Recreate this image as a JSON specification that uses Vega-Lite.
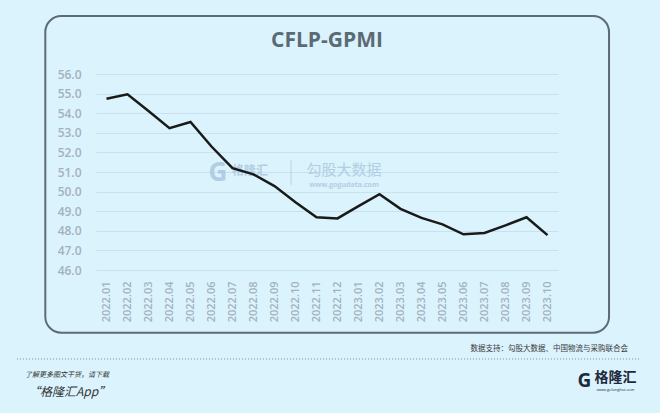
{
  "$schema": "https://vega.github.io/schema/vega-lite/v6.json",
  "width": 462,
  "height": 196,
  "autosize": "none",
  "padding": {"left": 96, "top": 74, "right": 102, "bottom": 143},
  "background": "#dbf3fd",
  "config": {
    "view": {"stroke": null},
    "font": "Open Sans",
    "axisX": {"tickCount": 22, "labelOverlap": false, "labelAngle": -90, "labelPadding": 11, "labelFontSize": 11, "labelColor": "#a3b1bd", "labelFont": "Open Sans", "labelFontWeight": 600, "domain": false, "ticks": false, "grid": false, "labelBound": false},
    "axisY": {"tickCount": 11, "labelOverlap": false, "labelPadding": 15, "labelFontSize": 12, "labelColor": "#a3b1bd", "labelFont": "Open Sans", "labelFontWeight": 600, "domain": false, "ticks": false, "grid": true, "gridColor": "#c8e1ec", "gridWidth": 1}
  },
  "layer": [
    {
      "data": {"values": [{}]},
      "mark": {"type": "rect", "fill": null, "stroke": "#5d6b75", "strokeWidth": 2, "cornerRadius": 16, "clip": false},
      "encoding": {
        "x": {"datum": -2.914, "type": "quantitative", "scale": {"domain": [-0.5, 21.5], "nice": false, "zero": false}, "axis": {
          "values": [0,1,2,3,4,5,6,7,8,9,10,11,12,13,14,15,16,17,18,19,20,21],
          "labelExpr": "['2022.01','2022.02','2022.03','2022.04','2022.05','2022.06','2022.07','2022.08','2022.09','2022.10','2022.11','2022.12','2023.01','2023.02','2023.03','2023.04','2023.05','2023.06','2023.07','2023.08','2023.09','2023.10'][datum.value]",
          "title": null, "labelOverlap": false, "tickCount": 22
        }},
        "x2": {"datum": 23.93},
        "y": {"datum": 58.96, "type": "quantitative", "scale": {"domain": [46, 56], "nice": false, "zero": false}, "axis": {
          "values": [46,47,48,49,50,51,52,53,54,55,56], "format": ".1f", "title": null, "labelOverlap": false, "tickCount": 11
        }},
        "y2": {"datum": 42.8}
      }
    },
    {
      "data": {"values": [{}]},
      "mark": {"type": "text", "text": "CFLP-GPMI", "font": "Open Sans", "fontWeight": "bold", "fontSize": 21, "color": "#5b6b75", "align": "center", "baseline": "middle"},
      "encoding": {"x": {"datum": 10.5, "type": "quantitative"}, "y": {"datum": 57.68, "type": "quantitative"}}
    },
    {
      "data": {"values": [{}]},
      "mark": {"type": "text", "text": "G", "font": "Open Sans", "fontWeight": "bold", "fontSize": 26, "color": "#a9c6df", "opacity": 0.8, "align": "center", "baseline": "middle"},
      "encoding": {"x": {"datum": 5.31, "type": "quantitative"}, "y": {"datum": 50.95, "type": "quantitative"}}
    },
    {
      "data": {"values": [{}]},
      "mark": {"type": "text", "text": "格隆汇", "font": "Noto Sans CJK SC", "fontWeight": "bold", "fontSize": 12, "color": "#a9c6df", "opacity": 0.8, "align": "center", "baseline": "middle"},
      "encoding": {"x": {"datum": 6.83, "type": "quantitative"}, "y": {"datum": 51.05, "type": "quantitative"}}
    },
    {
      "data": {"values": [{}]},
      "mark": {"type": "rule", "color": "#b9d2e3", "strokeWidth": 1},
      "encoding": {"x": {"datum": 8.79, "type": "quantitative"}, "y": {"datum": 51.61, "type": "quantitative"}, "y2": {"datum": 50.34}}
    },
    {
      "data": {"values": [{}]},
      "mark": {"type": "text", "text": "勾股大数据", "font": "Noto Sans CJK SC", "fontSize": 15, "color": "#a9c6df", "opacity": 0.8, "align": "center", "baseline": "middle"},
      "encoding": {"x": {"datum": 11.31, "type": "quantitative"}, "y": {"datum": 51.1, "type": "quantitative"}}
    },
    {
      "data": {"values": [{}]},
      "mark": {"type": "text", "text": "www.gogudata.com", "font": "Open Sans", "fontWeight": "bold", "fontSize": 7, "color": "#a9c6df", "opacity": 0.8, "align": "center", "baseline": "middle"},
      "encoding": {"x": {"datum": 11.31, "type": "quantitative"}, "y": {"datum": 50.36, "type": "quantitative"}}
    },
    {
      "data": {"values": [
        {"month": "2022.01", "i": 0, "value": 54.74},
        {"month": "2022.02", "i": 1, "value": 54.96},
        {"month": "2022.03", "i": 2, "value": 54.11},
        {"month": "2022.04", "i": 3, "value": 53.24},
        {"month": "2022.05", "i": 4, "value": 53.55},
        {"month": "2022.06", "i": 5, "value": 52.3},
        {"month": "2022.07", "i": 6, "value": 51.2},
        {"month": "2022.08", "i": 7, "value": 50.88},
        {"month": "2022.09", "i": 8, "value": 50.28},
        {"month": "2022.10", "i": 9, "value": 49.46},
        {"month": "2022.11", "i": 10, "value": 48.69},
        {"month": "2022.12", "i": 11, "value": 48.63},
        {"month": "2023.01", "i": 12, "value": 49.26},
        {"month": "2023.02", "i": 13, "value": 49.87},
        {"month": "2023.03", "i": 14, "value": 49.12},
        {"month": "2023.04", "i": 15, "value": 48.66},
        {"month": "2023.05", "i": 16, "value": 48.33},
        {"month": "2023.06", "i": 17, "value": 47.82},
        {"month": "2023.07", "i": 18, "value": 47.89},
        {"month": "2023.08", "i": 19, "value": 48.28},
        {"month": "2023.09", "i": 20, "value": 48.69},
        {"month": "2023.10", "i": 21, "value": 47.78}
      ]},
      "mark": {"type": "line", "color": "#1a1a1a", "strokeWidth": 2.5},
      "encoding": {
        "x": {"field": "i", "type": "quantitative", "title": null},
        "y": {"field": "value", "type": "quantitative", "axis": {
          "values": [46,47,48,49,50,51,52,53,54,55,56], "format": ".1f", "title": null, "labelOverlap": false, "tickCount": 11
        }}
      }
    },
    {
      "data": {"values": [{}]},
      "mark": {"type": "text", "text": "数据支持：勾股大数据、中国物流与采购联合会", "font": "Noto Sans CJK SC", "fontSize": 7.5, "color": "#3a3a3a", "align": "right", "baseline": "middle"},
      "encoding": {"x": {"datum": 24.83, "type": "quantitative"}, "y": {"datum": 41.97, "type": "quantitative"}}
    },
    {
      "data": {"values": [{}]},
      "mark": {"type": "rule", "color": "#8a8a8a", "strokeWidth": 1, "strokeDash": [1, 2]},
      "encoding": {"x": {"datum": -4.262, "type": "quantitative"}, "x2": {"datum": 25.405}, "y": {"datum": 41.46, "type": "quantitative"}}
    },
    {
      "data": {"values": [{}]},
      "mark": {"type": "text", "text": "了解更多图文干货，请下载", "font": "Noto Sans CJK SC", "fontStyle": "italic", "fontSize": 7, "color": "#333333", "align": "left", "baseline": "middle"},
      "encoding": {"x": {"datum": -3.881, "type": "quantitative"}, "y": {"datum": 40.64, "type": "quantitative"}}
    },
    {
      "data": {"values": [{}]},
      "mark": {"type": "text", "text": "“格隆汇App”", "font": "Noto Sans CJK SC", "fontStyle": "italic", "fontSize": 12, "color": "#333333", "align": "left", "baseline": "middle"},
      "encoding": {"x": {"datum": -3.738, "type": "quantitative"}, "y": {"datum": 39.78, "type": "quantitative"}}
    },
    {
      "data": {"values": [{}]},
      "mark": {"type": "text", "text": "G", "font": "Open Sans", "fontWeight": "bold", "fontSize": 19, "color": "#1e2a3c", "align": "center", "baseline": "middle"},
      "encoding": {"x": {"datum": 22.76, "type": "quantitative"}, "y": {"datum": 40.34, "type": "quantitative"}}
    },
    {
      "data": {"values": [{}]},
      "mark": {"type": "text", "text": "格隆汇", "font": "Noto Sans CJK SC", "fontWeight": "bold", "fontSize": 14, "color": "#1e2a3c", "align": "center", "baseline": "middle"},
      "encoding": {"x": {"datum": 24.24, "type": "quantitative"}, "y": {"datum": 40.5, "type": "quantitative"}}
    },
    {
      "data": {"values": [{}]},
      "mark": {"type": "text", "text": "www.gelonghui.com", "font": "Open Sans", "fontSize": 4, "color": "#1e2a3c", "align": "center", "baseline": "middle"},
      "encoding": {"x": {"datum": 24.24, "type": "quantitative"}, "y": {"datum": 39.9, "type": "quantitative"}}
    }
  ]
}
